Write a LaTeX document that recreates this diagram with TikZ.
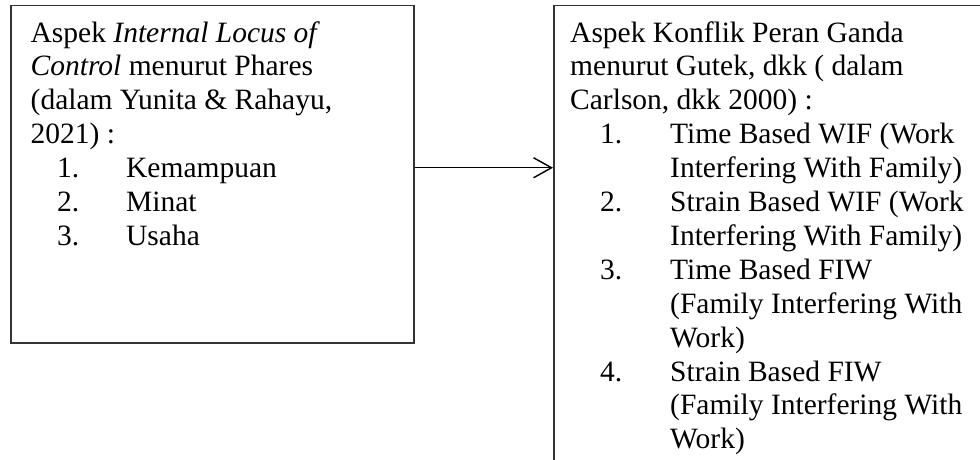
\documentclass[tikz,border=0pt]{standalone}
\usepackage{fontspec}
\setmainfont{Liberation Serif}
\usetikzlibrary{arrows.meta}
\tikzset{
  frame/.style={draw=black!80, line width=1.5pt, inner sep=0pt, anchor=north west},
  boxtext/.style={anchor=base west, align=left, inner sep=0pt, font=\fontsize{29.5}{33.9}\selectfont},
  link/.style={draw=black, line width=1.4pt, -{Straight Barb[length=18pt,width=20pt,line width=1.4pt]}}
}
\newcommand{\litemL}[1]{\hspace*{26.5pt}\makebox[69pt][l]{#1}}
\newcommand{\litemR}[1]{\hspace*{30pt}\makebox[70pt][l]{#1}}
\begin{document}
\begin{tikzpicture}[x=1pt,y=-1pt]
\useasboundingbox (0,0) rectangle (980,460);
\clip (0,0) rectangle (980,460);
\fill[white] (0,0) rectangle (980,460);
\node[frame, minimum width=403pt, minimum height=337pt] (leftbox) at (10,5) {};
\node[frame, minimum width=600pt, minimum height=600pt] (rightbox) at (553,5) {};
% base anchor = baseline of the last line
\node[boxtext] (lefttext) at (30.5,245.4) {Aspek \textit{Internal Locus of}\\
\textit{Control} menurut Phares\\
(dalam Yunita \& Rahayu,\\
2021) :\\
\litemL{1.}Kemampuan\\
\litemL{2.}Minat\\
\litemL{3.}Usaha};
\node[boxtext] (righttext) at (570,448.8) {Aspek Konflik Peran Ganda\\
menurut Gutek, dkk ( dalam\\
Carlson, dkk 2000) :\\
\litemR{1.}Time Based WIF (Work\\
\hspace*{100pt}Interfering With Family)\\
\litemR{2.}Strain Based WIF (Work\\
\hspace*{100pt}Interfering With Family)\\
\litemR{3.}Time Based FIW\\
\hspace*{100pt}(Family Interfering With\\
\hspace*{100pt}Work)\\
\litemR{4.}Strain Based FIW\\
\hspace*{100pt}(Family Interfering With\\
\hspace*{100pt}Work)};
\draw[link] ([yshift=6.5pt]leftbox.east) -- ([yshift=6.5pt]leftbox.east -| rightbox.west);
\end{tikzpicture}
\end{document}
